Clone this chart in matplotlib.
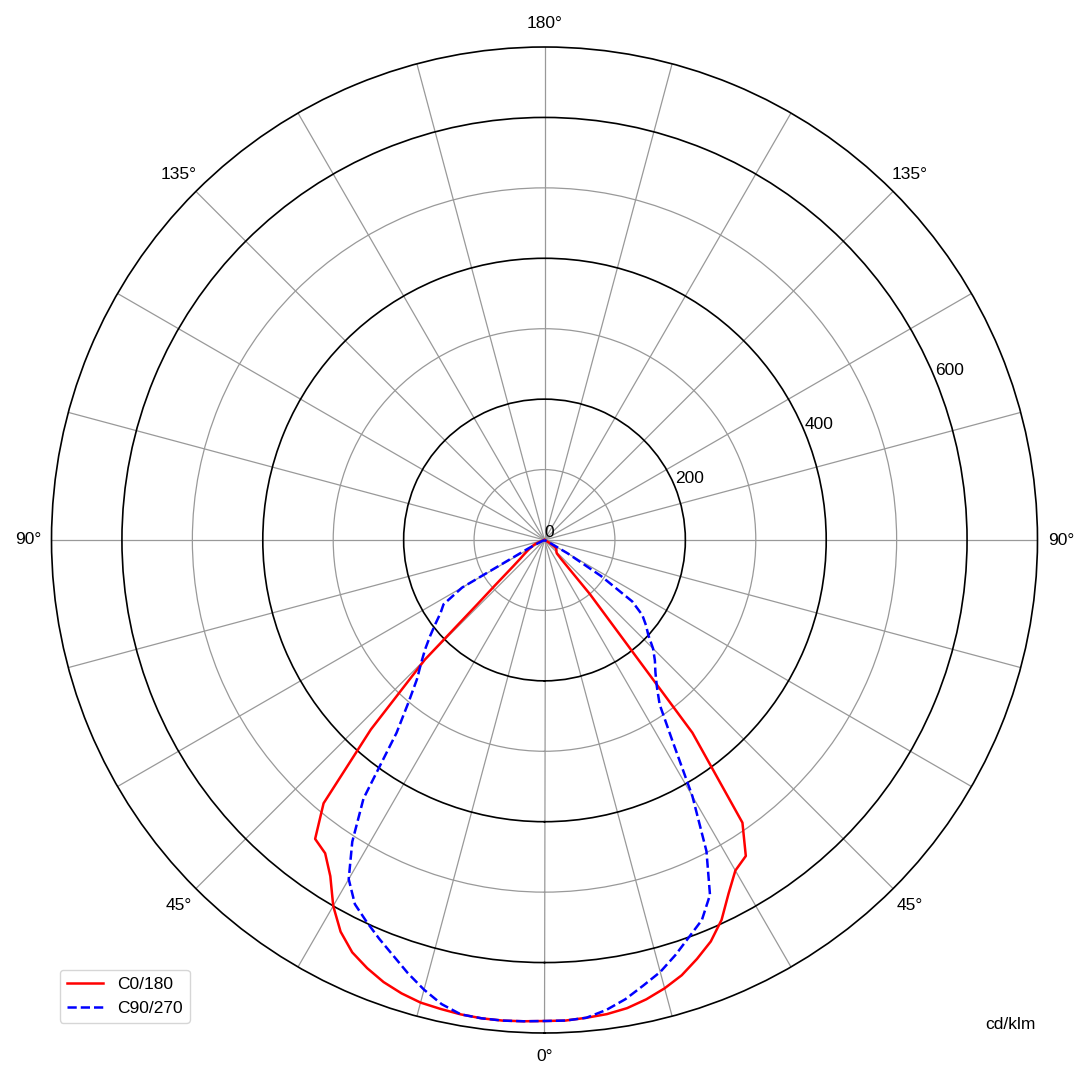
import numpy as np
import matplotlib
matplotlib.use("Agg")
import matplotlib.pyplot as plt

plt.rcParams['font.family'] = ['Liberation Sans', 'DejaVu Sans']

# ---- data (cd/klm vs gamma angle in degrees) ----
g_c0 = [0, 2.5, 5, 7.5, 10, 12.5, 15, 17.5, 20, 22.5, 25, 27.5, 30, 32.5, 35,
        37.5, 40, 41.25, 42.5, 45, 47.5, 50, 52.5, 55, 57.5, 60, 62.5, 65, 90]
i_c0 = [683, 683, 681, 679, 675, 668, 659, 648, 633, 617, 595, 566, 542, 532, 490,
        345, 100, 35, 26, 24, 23, 22, 21, 19, 13, 7, 3, 0, 0]

g_c180 = [0, 2.5, 5, 7.5, 10, 12.5, 15, 17.5, 20, 22.5, 25, 27.5, 30, 32.5, 35,
          37.5, 40, 42.5, 45, 46.25, 47.5, 50, 52.5, 55, 57.5, 60, 62.5, 65, 67.5,
          70, 72.5, 75, 90]
i_c180 = [683, 684, 685, 685, 684, 682, 680, 675, 668, 658, 646, 627, 600, 566, 543,
          535, 488, 365, 240, 132, 95, 58, 43, 35, 29, 24, 20, 17, 12,
          6, 2, 0, 0]

g_c90 = [0, 2.5, 5, 7.5, 10, 12.5, 15, 17.5, 20, 22.5, 25, 27.5, 30, 32.5, 35,
         37.5, 40, 42.5, 45, 47.5, 50, 52.5, 55, 57.5, 60, 62.5, 65, 90]
i_c90 = [683, 683, 681, 673, 662, 648, 635, 618, 600, 584, 556, 498, 420, 338, 285,
         262, 245, 232, 218, 200, 188, 175, 152, 95, 38, 8, 0, 0]

g_c270 = [0, 2.5, 5, 7.5, 10, 12.5, 15, 17.5, 20, 22.5, 25, 27.5, 30, 32.5, 35,
          37.5, 40, 42.5, 45, 47.5, 50, 52.5, 55, 57.5, 60, 62.5, 65, 67.5, 90]
i_c270 = [683, 684, 685, 685, 684, 675, 661, 645, 628, 613, 598, 583, 556, 508, 448,
          345, 300, 268, 248, 230, 212, 195, 180, 170, 135, 25, 5, 0, 0]

series_labels = ["C0/180", "C90/270"]
r_major = [0, 200, 400, 600]
r_minor = [100, 300, 500]
r_max = 700
unit_label = "cd/klm"


def join(g_pos, i_pos, g_neg, i_neg):
    th = np.concatenate([-np.array(g_neg[::-1], float), np.array(g_pos[1:], float)])
    rr = np.concatenate([np.array(i_neg[::-1], float), np.array(i_pos[1:], float)])
    return np.radians(th), rr


fig = plt.figure(figsize=(10.89, 10.80), dpi=100)
ax = fig.add_axes([0.0473, 0.0435, 0.9054, 0.913], projection='polar')
ax.set_theta_zero_location('S')
ax.set_theta_direction(1)

th_r, r_r = join(g_c0, i_c0, g_c180, i_c180)
th_b, r_b = join(g_c90, i_c90, g_c270, i_c270)
ax.plot(th_r, r_r, color='red', lw=1.8, label=series_labels[0], zorder=5)
ax.plot(th_b, r_b, color='blue', lw=1.8, ls='--', label=series_labels[1], zorder=5)

ax.set_ylim(0, r_max)

# radial grid
ax.set_yticks(r_major)
ax.set_yticklabels([str(v) for v in r_major], fontsize=12.5)
ax.set_yticks(r_minor, minor=True)
ax.yaxis.grid(True, which='major', color='black', lw=1.2)
ax.yaxis.grid(True, which='minor', color='#999999', lw=0.9)
ax.set_rlabel_position(112.5)

# angular grid
tdeg = np.arange(0, 360, 15)
tlabels = []
for t in tdeg:
    if t % 45 == 0:
        tlabels.append(f"{min(t, 360 - t)}°")
    else:
        tlabels.append("")
ax.set_xticks(np.radians(tdeg))
ax.set_xticklabels(tlabels, fontsize=12.5)
ax.xaxis.grid(True, color='#999999', lw=0.9)
ax.tick_params(axis='x', pad=6.6)
ax.spines['polar'].set_color('black')
ax.spines['polar'].set_linewidth(1.2)

fig.legend(loc='lower left', bbox_to_anchor=(0.055, 0.053), borderaxespad=0,
           fontsize=12.5, handlelength=2.1)
fig.text(0.928, 0.051, unit_label, ha='center', va='center', fontsize=12.5)

fig.savefig('out.png', dpi=100)
